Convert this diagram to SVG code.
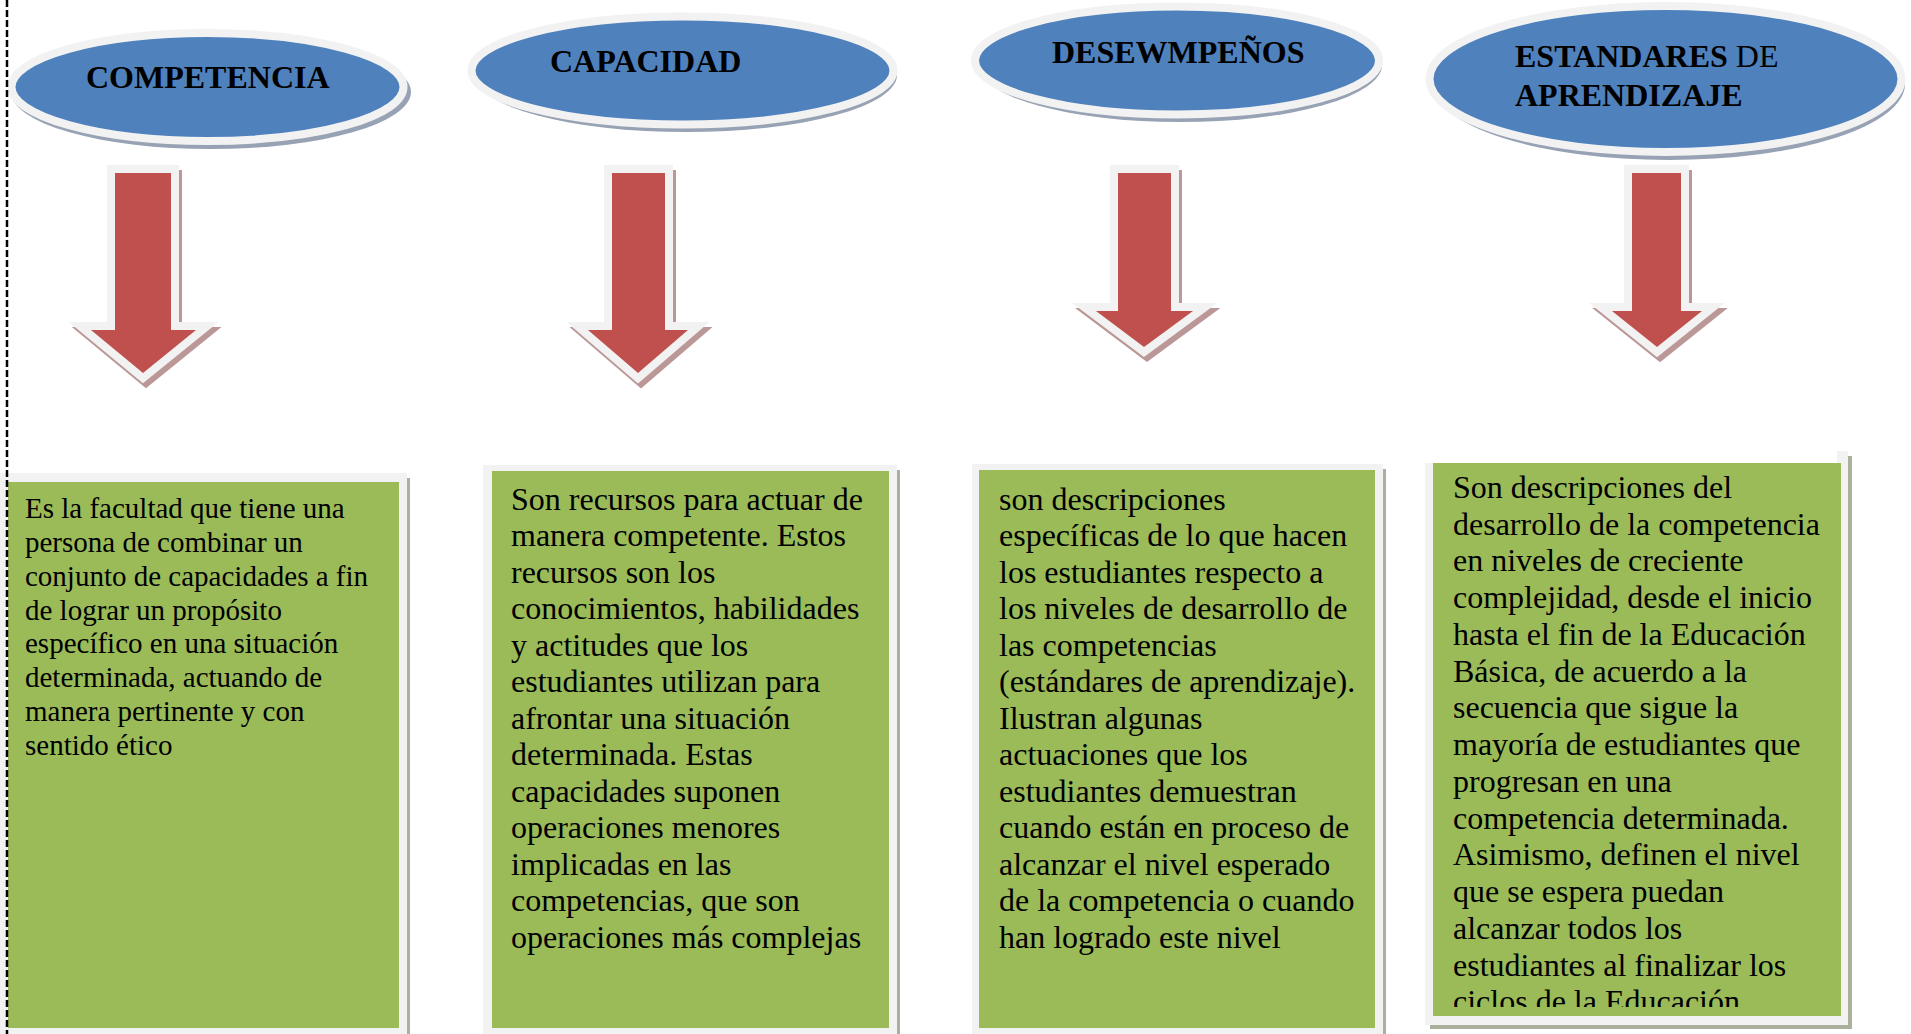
<svg xmlns="http://www.w3.org/2000/svg" width="1911" height="1034" viewBox="0 0 1911 1034">
<style>
.ell-sh{fill:#97a2b4;}
.ell{fill:#4f81bd;stroke:#f2f2f2;stroke-width:8;}
.head{font-family:"Liberation Serif","Times New Roman",serif;font-size:32px;font-weight:bold;fill:#000;}
.reg{font-weight:normal;}
.arr-sh{fill:#bb9797;stroke:#bb9797;stroke-width:16;stroke-linejoin:miter;stroke-miterlimit:4;}
.arr{fill:#c0504d;stroke:#f2f2f2;stroke-width:16;stroke-linejoin:miter;stroke-miterlimit:4;paint-order:stroke fill;}
.frame{fill:#f2f2f2;}
.bsh{fill:#a9b19c;}
.green{fill:#9bbb59;}
.body{font-family:"Liberation Serif","Times New Roman",serif;font-size:32px;fill:#000;}
.small{font-size:29px;}
</style>
<defs>
<clipPath id="clip4"><rect x="1433" y="463" width="408" height="544"/></clipPath>
</defs>
<rect width="1911" height="1034" fill="#fff"/>

<g id="connectors">
<g id="arrow1">
<polygon class="arr-sh" transform="translate(3,5)" points="115,173 171,173 171,330 196,330 143,373 91,330 115,330"/>
<polygon class="arr" points="115,173 171,173 171,330 196,330 143,373 91,330 115,330"/>
</g>
<g id="arrow2">
<polygon class="arr-sh" transform="translate(3,5)" points="612,173 665,173 665,330 688,330 638,373 588,330 612,330"/>
<polygon class="arr" points="612,173 665,173 665,330 688,330 638,373 588,330 612,330"/>
</g>
<g id="arrow3">
<polygon class="arr-sh" transform="translate(3,5)" points="1118,173 1171,173 1171,311 1193,311 1144,347 1096,311 1118,311"/>
<polygon class="arr" points="1118,173 1171,173 1171,311 1193,311 1144,347 1096,311 1118,311"/>
</g>
<g id="arrow4">
<polygon class="arr-sh" transform="translate(3,5)" points="1632,173 1681,173 1681,311 1702,311 1657,347 1612,311 1632,311"/>
<polygon class="arr" points="1632,173 1681,173 1681,311 1702,311 1657,347 1612,311 1632,311"/>
</g>
</g>

<g id="node-competencia">
<ellipse class="ell-sh" cx="211" cy="92" rx="200" ry="57"/>
<ellipse class="ell" cx="207.5" cy="87" rx="196" ry="54"/>
<text class="head" x="86" y="88">COMPETENCIA</text>
</g>
<g id="node-capacidad">
<ellipse class="ell-sh" cx="686" cy="75" rx="211" ry="57"/>
<ellipse class="ell" cx="682.5" cy="70.5" rx="211" ry="54"/>
<text class="head" x="550" y="72">CAPACIDAD</text>
</g>
<g id="node-desempenos">
<ellipse class="ell-sh" cx="1180" cy="65" rx="202" ry="57"/>
<ellipse class="ell" cx="1177" cy="60.5" rx="202" ry="54"/>
<text class="head" x="1052" y="63">DESEWMPEÑOS</text>
</g>
<g id="node-estandares">
<ellipse class="ell-sh" cx="1669" cy="84" rx="236" ry="76"/>
<ellipse class="ell" cx="1665.5" cy="79" rx="236" ry="73"/>
<text class="head" x="1515" y="67">ESTANDARES<tspan class="reg"> DE</tspan></text>
<text class="head" x="1515" y="106">APRENDIZAJE</text>
</g>

<g id="box-competencia">
<rect class="bsh" x="404" y="478" width="6" height="560"/>
<rect class="frame" x="0" y="473" width="407" height="570"/>
<rect class="green" x="8" y="482" width="391" height="546"/>
<text class="body small">
<tspan x="25" y="518">Es la facultad que tiene una</tspan>
<tspan x="25" y="552">persona de combinar un</tspan>
<tspan x="25" y="586">conjunto de capacidades a fin</tspan>
<tspan x="25" y="620">de lograr un propósito</tspan>
<tspan x="25" y="653">específico en una situación</tspan>
<tspan x="25" y="687">determinada, actuando de</tspan>
<tspan x="25" y="721">manera pertinente y con</tspan>
<tspan x="25" y="755">sentido ético</tspan>
</text>
</g>

<g id="box-capacidad">
<rect class="bsh" x="894" y="470" width="6" height="570"/>
<rect class="frame" x="483" y="465" width="414" height="575"/>
<rect class="green" x="492" y="471" width="397" height="557"/>
<text class="body">
<tspan x="511" y="510">Son recursos para actuar de</tspan>
<tspan x="511" y="546">manera competente. Estos</tspan>
<tspan x="511" y="583">recursos son los</tspan>
<tspan x="511" y="619">conocimientos, habilidades</tspan>
<tspan x="511" y="656">y actitudes que los</tspan>
<tspan x="511" y="692">estudiantes utilizan para</tspan>
<tspan x="511" y="729">afrontar una situación</tspan>
<tspan x="511" y="765">determinada. Estas</tspan>
<tspan x="511" y="802">capacidades suponen</tspan>
<tspan x="511" y="838">operaciones menores</tspan>
<tspan x="511" y="875">implicadas en las</tspan>
<tspan x="511" y="911">competencias, que son</tspan>
<tspan x="511" y="948">operaciones más complejas</tspan>
</text>
</g>

<g id="box-desempenos">
<rect class="bsh" x="1380" y="469" width="6" height="570"/>
<rect class="frame" x="972" y="464" width="411" height="576"/>
<rect class="green" x="979" y="470" width="396" height="558"/>
<text class="body">
<tspan x="999" y="510">son descripciones</tspan>
<tspan x="999" y="546">específicas de lo que hacen</tspan>
<tspan x="999" y="583">los estudiantes respecto a</tspan>
<tspan x="999" y="619">los niveles de desarrollo de</tspan>
<tspan x="999" y="656">las competencias</tspan>
<tspan x="999" y="692">(estándares de aprendizaje).</tspan>
<tspan x="999" y="729">Ilustran algunas</tspan>
<tspan x="999" y="765">actuaciones que los</tspan>
<tspan x="999" y="802">estudiantes demuestran</tspan>
<tspan x="999" y="838">cuando están en proceso de</tspan>
<tspan x="999" y="875">alcanzar el nivel esperado</tspan>
<tspan x="999" y="911">de la competencia o cuando</tspan>
<tspan x="999" y="948">han logrado este nivel</tspan>
</text>
</g>

<g id="box-estandares">
<rect class="bsh" x="1844" y="456" width="8" height="573"/>
<rect class="bsh" x="1430" y="1020" width="422" height="9"/>
<rect class="frame" x="1425" y="463" width="423" height="562"/>
<rect class="frame" x="1837" y="451" width="11" height="14"/>
<rect class="green" x="1433" y="463" width="408" height="553"/>
<text class="body" clip-path="url(#clip4)">
<tspan x="1453" y="498">Son descripciones del</tspan>
<tspan x="1453" y="535">desarrollo de la competencia</tspan>
<tspan x="1453" y="571">en niveles de creciente</tspan>
<tspan x="1453" y="608">complejidad, desde el inicio</tspan>
<tspan x="1453" y="645">hasta el fin de la Educación</tspan>
<tspan x="1453" y="682">Básica, de acuerdo a la</tspan>
<tspan x="1453" y="718">secuencia que sigue la</tspan>
<tspan x="1453" y="755">mayoría de estudiantes que</tspan>
<tspan x="1453" y="792">progresan en una</tspan>
<tspan x="1453" y="829">competencia determinada.</tspan>
<tspan x="1453" y="865">Asimismo, definen el nivel</tspan>
<tspan x="1453" y="902">que se espera puedan</tspan>
<tspan x="1453" y="939">alcanzar todos los</tspan>
<tspan x="1453" y="976">estudiantes al finalizar los</tspan>
<tspan x="1453" y="1012">ciclos de la Educación</tspan>
</text>
</g>

<line id="page-edge" x1="7" y1="0" x2="7" y2="1034" stroke="#000" stroke-width="2.5" stroke-dasharray="7 3"/>
</svg>
